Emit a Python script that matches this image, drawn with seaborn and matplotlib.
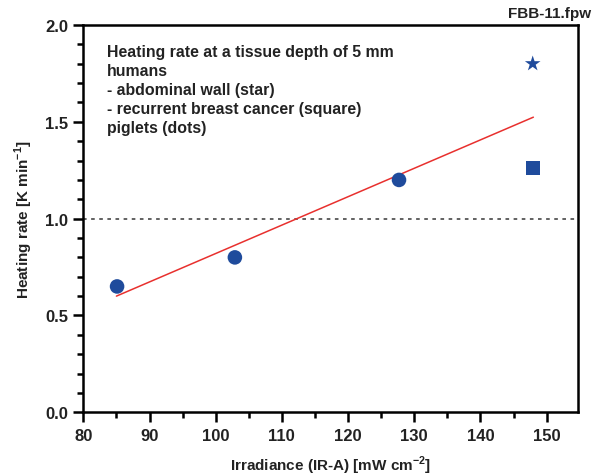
import matplotlib
matplotlib.use("Agg")
import matplotlib.pyplot as plt
import seaborn as sns
import pandas as pd
from matplotlib.ticker import MultipleLocator

# piglets (dots)
piglet_irr = [85.1, 102.9, 127.7]
piglet_rate = [0.65, 0.80, 1.20]
# humans
star_irr = [147.9]
star_rate = [1.80]
square_irr = [147.9]
square_rate = [1.26]
# fitted line end points
fit_irr = [85.0, 148.0]
fit_rate = [0.60, 1.524]

blue = "#1f4b9c"
red = "#e8302e"

sns.set_theme(style="ticks")
plt.rcParams["font.family"] = ["Liberation Sans", "DejaVu Sans"]
plt.rcParams["font.weight"] = "bold"
plt.rcParams["mathtext.fontset"] = "custom"
plt.rcParams["mathtext.rm"] = "Liberation Sans"
plt.rcParams["mathtext.bf"] = "Liberation Sans:bold"

fig = plt.figure(figsize=(5.96, 4.77), dpi=100)
ax = fig.add_axes([0.1398, 0.1335, 0.8295, 0.812])

ax.axhline(1.0, color="#555555", lw=1.3, ls=(0, (2, 2.5)), zorder=1)

fit_df = pd.DataFrame({"x": fit_irr, "y": fit_rate})
sns.lineplot(data=fit_df, x="x", y="y", color=red, lw=1.1, ax=ax, zorder=2)

sns.scatterplot(x=piglet_irr, y=piglet_rate, marker="o", s=110, color=blue,
                edgecolor="none", ax=ax, zorder=3)
sns.scatterplot(x=square_irr, y=square_rate, marker="s", s=100, color=blue,
                edgecolor="none", ax=ax, zorder=3)
sns.scatterplot(x=star_irr, y=star_rate, marker="*", s=140, color=blue,
                edgecolor="none", ax=ax, zorder=3)

ax.set_xlim(80, 154.7)
ax.set_ylim(0, 2.0)
ax.xaxis.set_major_locator(MultipleLocator(10))
ax.xaxis.set_minor_locator(MultipleLocator(5))
ax.yaxis.set_major_locator(MultipleLocator(0.5))
ax.yaxis.set_minor_locator(MultipleLocator(0.1))
ax.yaxis.set_major_formatter(plt.FuncFormatter(lambda v, p: f"{v:.1f}"))

for s in ax.spines.values():
    s.set_linewidth(1.8)
    s.set_color("black")
ax.tick_params(which="major", length=7, width=1.8, labelsize=12, color="black", pad=4)
ax.tick_params(which="minor", length=4, width=1.8, color="black")
for lab in ax.get_xticklabels() + ax.get_yticklabels():
    lab.set_fontweight("bold")
    lab.set_color("#222222")

ax.set_xlabel("Irradiance (IR-A) [mW cm$^{\\mathbf{-2}}$]", fontsize=11,
              fontweight="bold", color="#222222", labelpad=8)
ax.set_ylabel("Heating rate [K min$^{\\mathbf{-1}}$]", fontsize=11,
              fontweight="bold", color="#222222", labelpad=7)

note = ("Heating rate at a tissue depth of 5 mm\n"
        "humans\n"
        "- abdominal wall (star)\n"
        "- recurrent breast cancer (square)\n"
        "piglets (dots)")
ax.text(0.048, 0.95, note, transform=ax.transAxes, va="top", ha="left",
        fontsize=11.4, fontweight="bold", color="#222222", linespacing=1.32)

fig.text(0.992, 0.97, "FBB-11.fpw", ha="right", va="center", fontsize=11,
         fontweight="bold", color="#222222")

fig.savefig("out.png", dpi=100)
